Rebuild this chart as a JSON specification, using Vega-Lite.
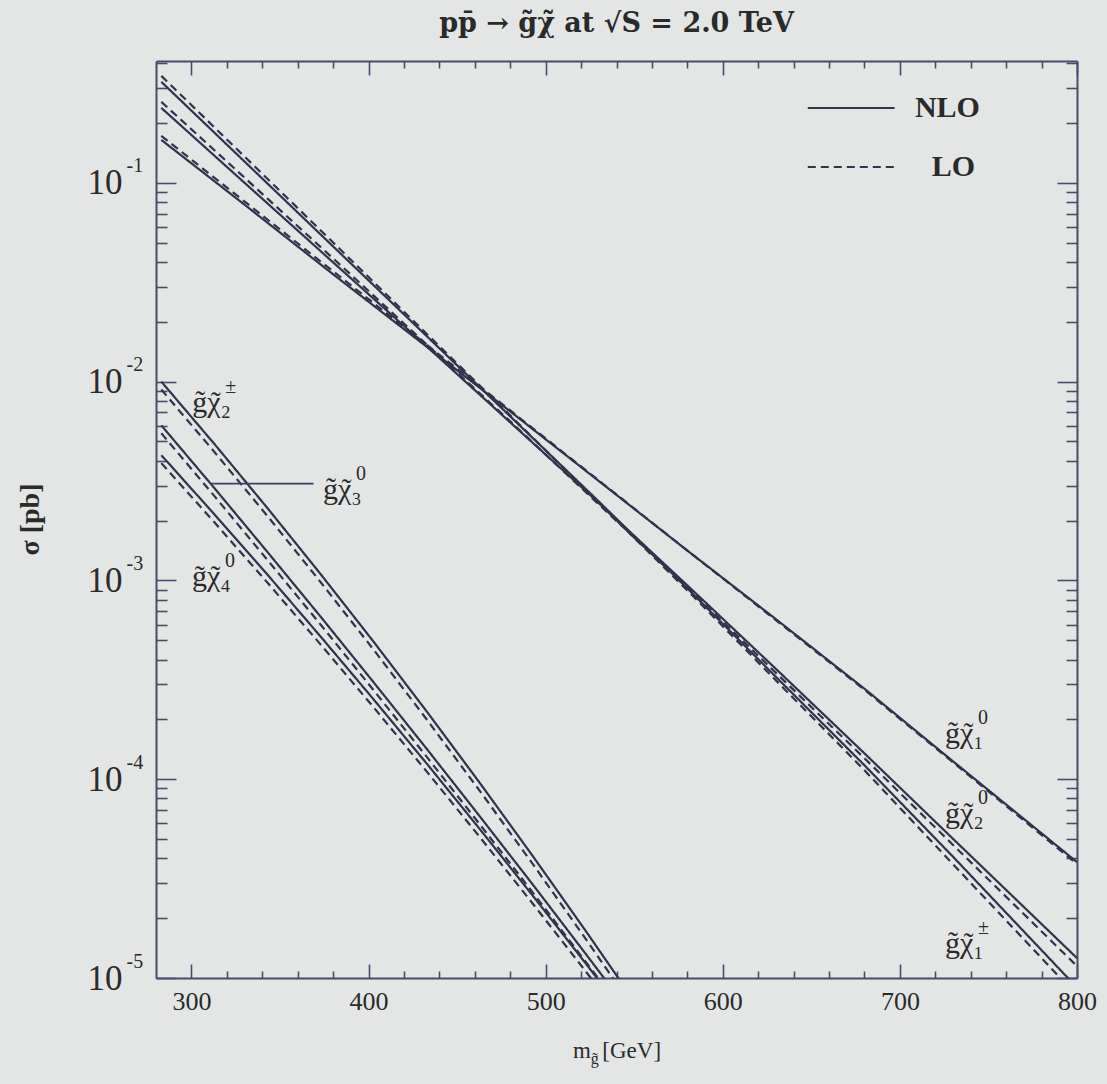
{
  "$schema": "https://vega.github.io/schema/vega-lite/v6.json",
  "width": 921,
  "height": 917,
  "autosize": {"type": "none"},
  "padding": {"left": 156, "top": 61, "right": 30, "bottom": 106},
  "background": "#e3e6e5",
  "title": {"text": "pp̄ → g̃χ̃ at √S = 2.0 TeV", "font": "DejaVu Serif", "fontSize": 27, "fontWeight": "bold", "color": "#2a2a2a", "anchor": "middle", "offset": 22},
  "config": {
    "view": {"stroke": null},
    "axis": {"domainColor": "#4a4b6b", "tickColor": "#4a4b6b", "labelFont": "Liberation Serif", "titleFont": "Liberation Serif", "labelColor": "#2a2a2a", "titleColor": "#2a2a2a", "grid": false, "domainWidth": 2, "tickWidth": 1.6, "labelOverlap": false, "labelFlush": false, "labelBound": false}
  },
  "datasets": {
    "curves": [
      {"k": "c10N", "o": "NLO", "m": 283, "s": 0.1644}, {"k": "c10N", "o": "NLO", "m": 330, "s": 0.07762}, {"k": "c10N", "o": "NLO", "m": 380, "s": 0.03467}, {"k": "c10N", "o": "NLO", "m": 430, "s": 0.01567}, {"k": "c10N", "o": "NLO", "m": 480, "s": 0.007079}, {"k": "c10N", "o": "NLO", "m": 530, "s": 0.003162}, {"k": "c10N", "o": "NLO", "m": 580, "s": 0.001413}, {"k": "c10N", "o": "NLO", "m": 630, "s": 0.0006383}, {"k": "c10N", "o": "NLO", "m": 680, "s": 0.0002851}, {"k": "c10N", "o": "NLO", "m": 730, "s": 0.000123}, {"k": "c10N", "o": "NLO", "m": 800, "s": 0.00003828},
      {"k": "c10L", "o": "LO", "m": 283, "s": 0.1722}, {"k": "c10L", "o": "LO", "m": 380, "s": 0.03589}, {"k": "c10L", "o": "LO", "m": 480, "s": 0.007161}, {"k": "c10L", "o": "LO", "m": 580, "s": 0.001413}, {"k": "c10L", "o": "LO", "m": 680, "s": 0.0002818}, {"k": "c10L", "o": "LO", "m": 800, "s": 0.00003741},
      {"k": "c20N", "o": "NLO", "m": 283, "s": 0.2382}, {"k": "c20N", "o": "NLO", "m": 330, "s": 0.1}, {"k": "c20N", "o": "NLO", "m": 380, "s": 0.03981}, {"k": "c20N", "o": "NLO", "m": 430, "s": 0.01585}, {"k": "c20N", "o": "NLO", "m": 480, "s": 0.006237}, {"k": "c20N", "o": "NLO", "m": 530, "s": 0.002455}, {"k": "c20N", "o": "NLO", "m": 580, "s": 0.0009441}, {"k": "c20N", "o": "NLO", "m": 630, "s": 0.0003589}, {"k": "c20N", "o": "NLO", "m": 680, "s": 0.0001349}, {"k": "c20N", "o": "NLO", "m": 730, "s": 0.00005012}, {"k": "c20N", "o": "NLO", "m": 800, "s": 0.00001259},
      {"k": "c20L", "o": "LO", "m": 283, "s": 0.2553}, {"k": "c20L", "o": "LO", "m": 380, "s": 0.04169}, {"k": "c20L", "o": "LO", "m": 480, "s": 0.00631}, {"k": "c20L", "o": "LO", "m": 580, "s": 0.0009226}, {"k": "c20L", "o": "LO", "m": 680, "s": 0.0001274}, {"k": "c20L", "o": "LO", "m": 800, "s": 0.00001148},
      {"k": "c1pN", "o": "NLO", "m": 283, "s": 0.3221}, {"k": "c1pN", "o": "NLO", "m": 330, "s": 0.1279}, {"k": "c1pN", "o": "NLO", "m": 380, "s": 0.04786}, {"k": "c1pN", "o": "NLO", "m": 430, "s": 0.01791}, {"k": "c1pN", "o": "NLO", "m": 480, "s": 0.006683}, {"k": "c1pN", "o": "NLO", "m": 530, "s": 0.002495}, {"k": "c1pN", "o": "NLO", "m": 580, "s": 0.000912}, {"k": "c1pN", "o": "NLO", "m": 630, "s": 0.0003273}, {"k": "c1pN", "o": "NLO", "m": 680, "s": 0.0001175}, {"k": "c1pN", "o": "NLO", "m": 730, "s": 0.00004074}, {"k": "c1pN", "o": "NLO", "m": 780, "s": 0.0000138}, {"k": "c1pN", "o": "NLO", "m": 800, "s": 0.00000895},
      {"k": "c1pL", "o": "LO", "m": 283, "s": 0.3451}, {"k": "c1pL", "o": "LO", "m": 380, "s": 0.05012}, {"k": "c1pL", "o": "LO", "m": 480, "s": 0.006761}, {"k": "c1pL", "o": "LO", "m": 580, "s": 0.0008913}, {"k": "c1pL", "o": "LO", "m": 680, "s": 0.0001109}, {"k": "c1pL", "o": "LO", "m": 780, "s": 0.00001259}, {"k": "c1pL", "o": "LO", "m": 800, "s": 0.00000813},
      {"k": "c2pN", "o": "NLO", "m": 283, "s": 0.01}, {"k": "c2pN", "o": "NLO", "m": 313, "s": 0.004853}, {"k": "c2pN", "o": "NLO", "m": 343, "s": 0.002307}, {"k": "c2pN", "o": "NLO", "m": 373, "s": 0.001074}, {"k": "c2pN", "o": "NLO", "m": 403, "s": 0.0004898}, {"k": "c2pN", "o": "NLO", "m": 433, "s": 0.0002183}, {"k": "c2pN", "o": "NLO", "m": 463, "s": 0.00009528}, {"k": "c2pN", "o": "NLO", "m": 493, "s": 0.00004074}, {"k": "c2pN", "o": "NLO", "m": 523, "s": 0.00001706}, {"k": "c2pN", "o": "NLO", "m": 550, "s": 0.00000766},
      {"k": "c2pL", "o": "LO", "m": 283, "s": 0.00912}, {"k": "c2pL", "o": "LO", "m": 313, "s": 0.004426}, {"k": "c2pL", "o": "LO", "m": 343, "s": 0.002104}, {"k": "c2pL", "o": "LO", "m": 373, "s": 0.0009795}, {"k": "c2pL", "o": "LO", "m": 403, "s": 0.0004467}, {"k": "c2pL", "o": "LO", "m": 433, "s": 0.0001991}, {"k": "c2pL", "o": "LO", "m": 463, "s": 0.0000869}, {"k": "c2pL", "o": "LO", "m": 493, "s": 0.00003715}, {"k": "c2pL", "o": "LO", "m": 523, "s": 0.00001556}, {"k": "c2pL", "o": "LO", "m": 550, "s": 0.00000699},
      {"k": "c30N", "o": "NLO", "m": 283, "s": 0.006026}, {"k": "c30N", "o": "NLO", "m": 313, "s": 0.002911}, {"k": "c30N", "o": "NLO", "m": 343, "s": 0.001387}, {"k": "c30N", "o": "NLO", "m": 373, "s": 0.0006561}, {"k": "c30N", "o": "NLO", "m": 403, "s": 0.0003062}, {"k": "c30N", "o": "NLO", "m": 433, "s": 0.0001416}, {"k": "c30N", "o": "NLO", "m": 463, "s": 0.00006471}, {"k": "c30N", "o": "NLO", "m": 493, "s": 0.00002931}, {"k": "c30N", "o": "NLO", "m": 523, "s": 0.00001309}, {"k": "c30N", "o": "NLO", "m": 540, "s": 0.00000826},
      {"k": "c30L", "o": "LO", "m": 283, "s": 0.005495}, {"k": "c30L", "o": "LO", "m": 313, "s": 0.002655}, {"k": "c30L", "o": "LO", "m": 343, "s": 0.001265}, {"k": "c30L", "o": "LO", "m": 373, "s": 0.0005984}, {"k": "c30L", "o": "LO", "m": 403, "s": 0.0002793}, {"k": "c30L", "o": "LO", "m": 433, "s": 0.0001291}, {"k": "c30L", "o": "LO", "m": 463, "s": 0.000059}, {"k": "c30L", "o": "LO", "m": 493, "s": 0.00002673}, {"k": "c30L", "o": "LO", "m": 523, "s": 0.00001194}, {"k": "c30L", "o": "LO", "m": 540, "s": 0.00000754},
      {"k": "c40N", "o": "NLO", "m": 283, "s": 0.004266}, {"k": "c40N", "o": "NLO", "m": 313, "s": 0.002148}, {"k": "c40N", "o": "NLO", "m": 343, "s": 0.001067}, {"k": "c40N", "o": "NLO", "m": 373, "s": 0.0005212}, {"k": "c40N", "o": "NLO", "m": 403, "s": 0.0002512}, {"k": "c40N", "o": "NLO", "m": 433, "s": 0.0001194}, {"k": "c40N", "o": "NLO", "m": 463, "s": 0.00005585}, {"k": "c40N", "o": "NLO", "m": 493, "s": 0.00002576}, {"k": "c40N", "o": "NLO", "m": 523, "s": 0.00001172}, {"k": "c40N", "o": "NLO", "m": 535, "s": 0.00000851},
      {"k": "c40L", "o": "LO", "m": 283, "s": 0.00389}, {"k": "c40L", "o": "LO", "m": 313, "s": 0.001959}, {"k": "c40L", "o": "LO", "m": 343, "s": 0.0009727}, {"k": "c40L", "o": "LO", "m": 373, "s": 0.0004753}, {"k": "c40L", "o": "LO", "m": 403, "s": 0.0002291}, {"k": "c40L", "o": "LO", "m": 433, "s": 0.0001089}, {"k": "c40L", "o": "LO", "m": 463, "s": 0.00005093}, {"k": "c40L", "o": "LO", "m": 493, "s": 0.0000235}, {"k": "c40L", "o": "LO", "m": 523, "s": 0.00001069}, {"k": "c40L", "o": "LO", "m": 535, "s": 0.00000776}
    ],
    "labels": [
      {"m": 300.5, "s": 0.00783, "t": "g̃χ₂", "sup": "±"},
      {"m": 374.3, "s": 0.002864, "t": "g̃χ₃", "sup": "0"},
      {"m": 300.3, "s": 0.001035, "t": "g̃χ₄", "sup": "0"},
      {"m": 725.5, "s": 0.0001683, "t": "g̃χ₁", "sup": "0"},
      {"m": 725.5, "s": 0.0000667, "t": "g̃χ₂", "sup": "0"},
      {"m": 725.5, "s": 0.00001479, "t": "g̃χ₁", "sup": "±"}
    ],
    "legend": [
      {"m": 648, "m2": 697, "s": 0.238, "o": "NLO", "tm": 708.5},
      {"m": 648, "m2": 697, "s": 0.12, "o": "LO", "tm": 718}
    ],
    "annot": [
      {"m": 311, "m2": 369, "s": 0.00307}
    ],
    "xsub": [
      {"m": 525.5, "s": 0.0000039, "t": "g̃"}
    ]
  },
  "resolve": {"axis": {"x": "independent", "y": "independent"}},
  "layer": [
    {
      "data": {"name": "curves"},
      "mark": {"type": "line", "clip": true, "strokeWidth": 2.2, "color": "#33324c"},
      "encoding": {
        "x": {"field": "m", "type": "quantitative", "scale": {"domain": [280, 800], "nice": false, "zero": false},
          "axis": {"orient": "bottom", "values": [300, 400, 500, 600, 700, 800], "ticks": false, "domain": true, "labelFontSize": 26, "labelPadding": 10, "title": "m\u00a0\u00a0[GeV]", "titleFontSize": 23, "titleFontWeight": "normal", "titleBaseline": "middle", "titleY": 72}},
        "y": {"field": "s", "type": "quantitative", "scale": {"type": "log", "domain": [0.00001, 0.41], "nice": false},
          "axis": {"orient": "left", "values": [0.00001, 0.0001, 0.001, 0.01, 0.1], "ticks": false, "domain": true, "labelExpr": "'10'", "labelFontSize": 35, "labelPadding": 34, "labelBaseline": "middle", "title": "σ [pb]", "titleFontSize": 28, "titleFontWeight": "bold", "titleBaseline": "middle", "titleX": -126, "titleY": 458, "titleAngle": -90}},
        "detail": {"field": "k"},
        "strokeDash": {"field": "o", "type": "nominal", "scale": {"domain": ["NLO", "LO"], "range": [[1, 0], [8, 5]]}, "legend": null}
      }
    },
    {
      "data": {"name": "labels"},
      "mark": {"type": "text", "align": "left", "baseline": "middle", "font": "Liberation Serif", "fontSize": 30, "color": "#2a2a2a"},
      "encoding": {
        "x": {"field": "m", "type": "quantitative", "axis": {"orient": "bottom", "values": [300, 400, 500, 600, 700, 800], "labels": false, "domain": false, "tickSize": -14, "title": null}},
        "y": {"field": "s", "type": "quantitative", "axis": {"orient": "left", "values": [0.00001, 0.0001, 0.001, 0.01, 0.1], "labels": false, "domain": false, "tickSize": -20, "title": null}},
        "text": {"field": "t"}
      }
    },
    {
      "data": {"name": "labels"},
      "mark": {"type": "text", "align": "center", "baseline": "middle", "font": "Liberation Serif", "fontSize": 30, "color": "#2a2a2a", "dx": 23.5},
      "encoding": {
        "x": {"field": "m", "type": "quantitative", "axis": null},
        "y": {"field": "s", "type": "quantitative", "axis": null},
        "text": {"value": "˜"}
      }
    },
    {
      "data": {"name": "labels"},
      "mark": {"type": "text", "align": "left", "baseline": "middle", "font": "Liberation Serif", "fontSize": 20, "color": "#2a2a2a", "dx": 33, "dy": -16},
      "encoding": {
        "x": {"field": "m", "type": "quantitative", "axis": null},
        "y": {"field": "s", "type": "quantitative", "axis": null},
        "text": {"field": "sup"}
      }
    },
    {
      "data": {"name": "legend"},
      "mark": {"type": "rule", "strokeWidth": 2, "color": "#33324c"},
      "encoding": {
        "x": {"field": "m", "type": "quantitative", "axis": {"orient": "bottom", "values": [320, 340, 360, 380, 420, 440, 460, 480, 520, 540, 560, 580, 620, 640, 660, 680, 720, 740, 760, 780], "labels": false, "domain": false, "tickSize": -7, "title": null}},
        "x2": {"field": "m2"},
        "y": {"field": "s", "type": "quantitative", "axis": {"orient": "left", "values": [0.00002, 0.00003, 0.00004, 0.00005, 0.00006, 0.00007, 0.00008, 0.00009, 0.0002, 0.0003, 0.0004, 0.0005, 0.0006, 0.0007, 0.0008, 0.0009, 0.002, 0.003, 0.004, 0.005, 0.006, 0.007, 0.008, 0.009, 0.02, 0.03, 0.04, 0.05, 0.06, 0.07, 0.08, 0.09, 0.2, 0.3, 0.4], "labels": false, "domain": false, "tickSize": -11, "title": null}},
        "strokeDash": {"field": "o", "type": "nominal", "scale": {"domain": ["NLO", "LO"], "range": [[1, 0], [8, 5]]}, "legend": null}
      }
    },
    {
      "data": {"name": "legend"},
      "mark": {"type": "text", "align": "left", "baseline": "middle", "font": "Liberation Serif", "fontSize": 30, "fontWeight": "bold", "color": "#2a2a2a"},
      "encoding": {
        "x": {"field": "tm", "type": "quantitative", "axis": {"orient": "top", "values": [300, 400, 500, 600, 700, 800], "labels": false, "domain": true, "tickSize": -14, "title": null}},
        "y": {"field": "s", "type": "quantitative", "axis": {"orient": "right", "values": [0.00001, 0.0001, 0.001, 0.01, 0.1], "labels": false, "domain": true, "tickSize": -20, "title": null}},
        "text": {"field": "o"}
      }
    },
    {
      "data": {"name": "annot"},
      "mark": {"type": "rule", "strokeWidth": 1.8, "color": "#3d3d6a"},
      "encoding": {
        "x": {"field": "m", "type": "quantitative", "axis": {"orient": "top", "values": [320, 340, 360, 380, 420, 440, 460, 480, 520, 540, 560, 580, 620, 640, 660, 680, 720, 740, 760, 780], "labels": false, "domain": false, "tickSize": -7, "title": null}},
        "x2": {"field": "m2"},
        "y": {"field": "s", "type": "quantitative", "axis": {"orient": "right", "values": [0.00002, 0.00003, 0.00004, 0.00005, 0.00006, 0.00007, 0.00008, 0.00009, 0.0002, 0.0003, 0.0004, 0.0005, 0.0006, 0.0007, 0.0008, 0.0009, 0.002, 0.003, 0.004, 0.005, 0.006, 0.007, 0.008, 0.009, 0.02, 0.03, 0.04, 0.05, 0.06, 0.07, 0.08, 0.09, 0.2, 0.3, 0.4], "labels": false, "domain": false, "tickSize": -11, "title": null}}
      }
    },
    {
      "data": {"name": "xsub"},
      "mark": {"type": "text", "align": "left", "baseline": "middle", "font": "Liberation Serif", "fontSize": 16, "color": "#2a2a2a"},
      "encoding": {
        "x": {"field": "m", "type": "quantitative", "axis": null},
        "y": {"field": "s", "type": "quantitative", "axis": {"orient": "left", "values": [0.00001, 0.0001, 0.001, 0.01, 0.1], "ticks": false, "domain": false, "labelExpr": "datum.value < 0.00002 ? '-5' : datum.value < 0.0002 ? '-4' : datum.value < 0.002 ? '-3' : datum.value < 0.02 ? '-2' : '-1'", "labelAlign": "left", "labelBaseline": "middle", "labelFontSize": 20, "labelPadding": 30, "labelOffset": -17, "title": null}},
        "text": {"field": "t"}
      }
    }
  ]
}
